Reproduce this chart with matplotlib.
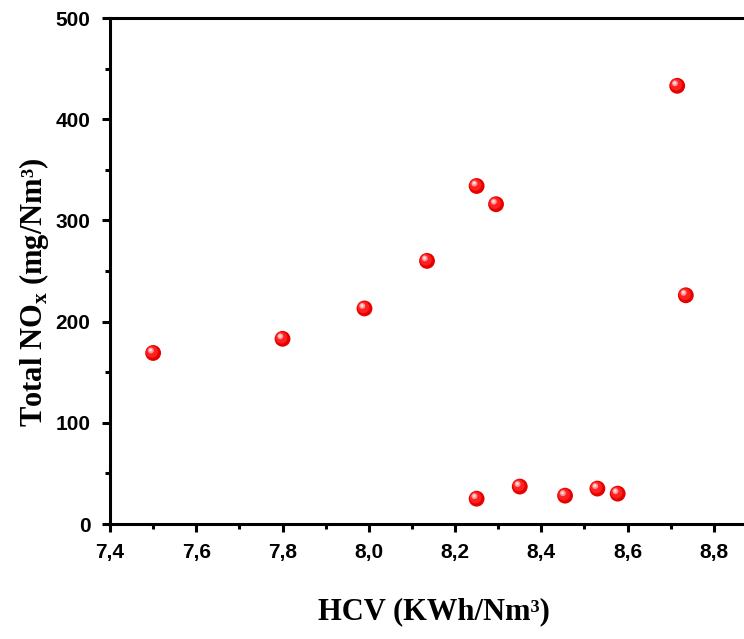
import matplotlib
matplotlib.use("Agg")
import matplotlib.pyplot as plt
from matplotlib.ticker import MultipleLocator, FuncFormatter
from matplotlib.transforms import offset_copy

hcv = [7.50, 7.80, 7.99, 8.135, 8.25, 8.295, 8.25, 8.35, 8.455, 8.53, 8.577, 8.715, 8.735]
nox = [169, 183, 213, 260, 334, 316, 25, 37, 28, 35, 30, 433, 226]

plt.rcParams["mathtext.fontset"] = "custom"
plt.rcParams["mathtext.rm"] = "Liberation Serif:bold"
plt.rcParams["mathtext.bf"] = "Liberation Serif:bold"

fig = plt.figure(figsize=(7.44, 6.39), dpi=100)
W, H = 744, 639
x0, x1 = 110, 757
y0, y1 = 524, 18
ax = fig.add_axes([x0 / W, 1 - y0 / H, (x1 - x0) / W, (y0 - y1) / H])

ax.scatter(hcv, nox, s=130, color="#e60000", edgecolors="none", zorder=3)
ax.scatter(hcv, nox, s=72, color="#ff2020", edgecolors="none", zorder=4,
           transform=offset_copy(ax.transData, fig=fig, x=-0.8, y=0.8, units="points"))
ax.scatter(hcv, nox, s=18, color="#ff9a9a", edgecolors="none", zorder=5,
           transform=offset_copy(ax.transData, fig=fig, x=-1.6, y=1.8, units="points"))
ax.scatter(hcv, nox, s=4, color="#ffe0e0", edgecolors="none", zorder=6,
           transform=offset_copy(ax.transData, fig=fig, x=-1.8, y=2.1, units="points"))

ax.set_xlim(7.4, 8.9)
ax.set_ylim(0, 500)
ax.xaxis.set_major_locator(MultipleLocator(0.2))
ax.xaxis.set_minor_locator(MultipleLocator(0.1))
ax.yaxis.set_major_locator(MultipleLocator(100))
ax.yaxis.set_minor_locator(MultipleLocator(50))
ax.xaxis.set_major_formatter(FuncFormatter(lambda v, p: f"{v:.1f}".replace(".", ",")))
ax.yaxis.set_major_formatter(FuncFormatter(lambda v, p: f"{v:.0f}"))

for s in ["left", "bottom", "top", "right"]:
    ax.spines[s].set_linewidth(2.2)
ax.tick_params(which="major", direction="out", length=6, width=2.2, labelsize=15, pad=8)
ax.tick_params(which="minor", direction="out", length=3.5, width=2.2)
for lab in ax.get_xticklabels() + ax.get_yticklabels():
    lab.set_fontfamily("Liberation Sans")
    lab.set_fontweight("bold")

ax.set_xlabel("HCV (KWh/Nm³)", fontfamily="Liberation Serif", fontweight="bold",
              fontsize=22)
ax.set_ylabel(r"Total NO$_{\mathregular{x}}$ (mg/Nm³)", fontfamily="Liberation Serif",
              fontweight="bold", fontsize=22)
ax.xaxis.set_label_coords(0.5, -0.145)
ax.yaxis.set_label_coords(-0.117, 0.458)
ax.yaxis.label.set_va("center")
ax.xaxis.label.set_va("top")

fig.savefig("out.png", dpi=100)
